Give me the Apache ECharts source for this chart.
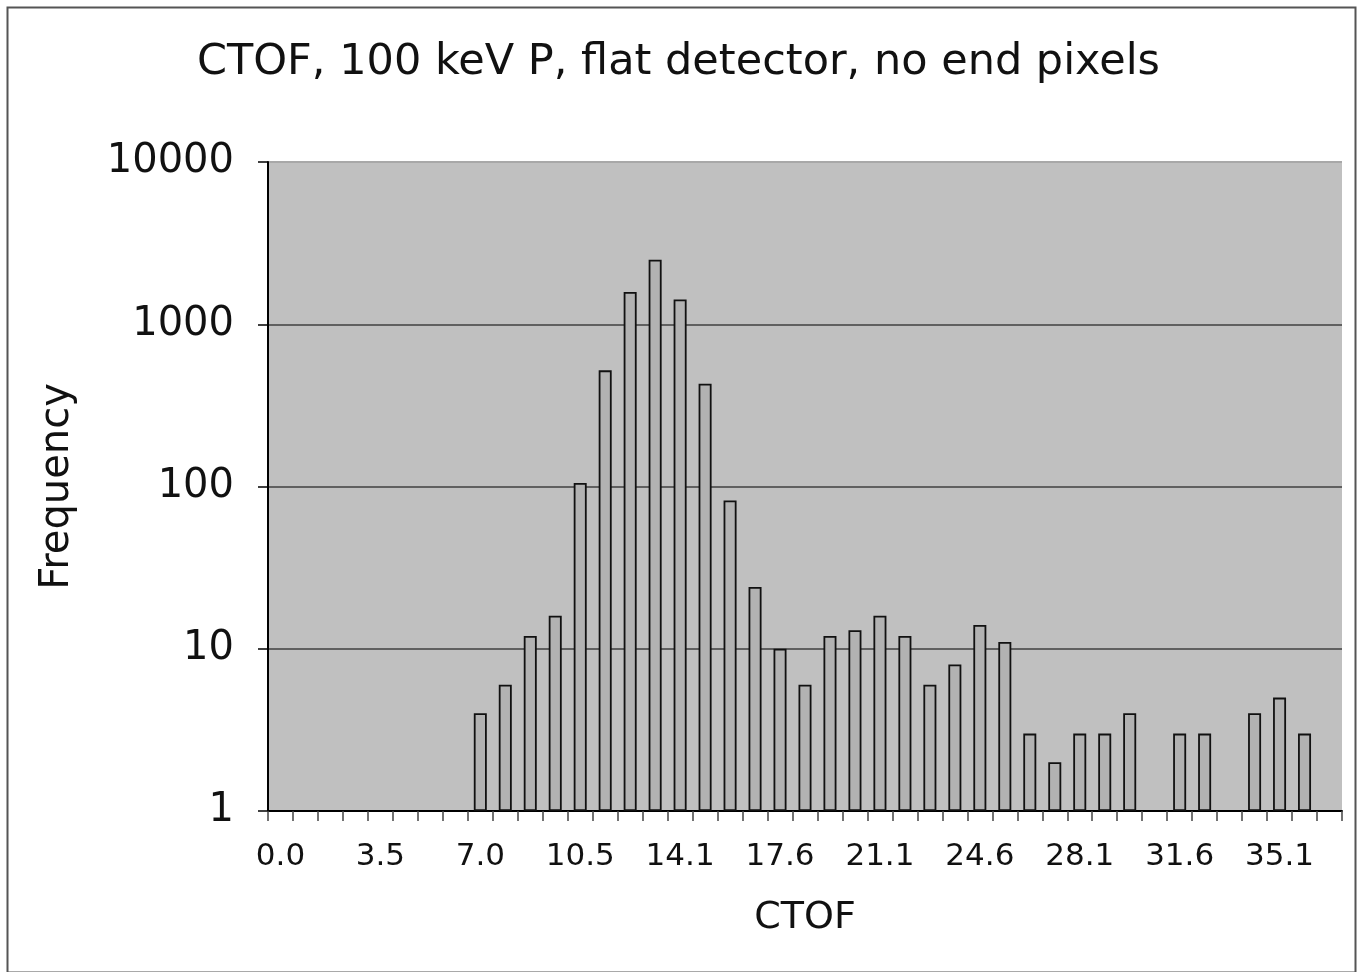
<!DOCTYPE html>
<html>
<head>
<meta charset="utf-8">
<script src="https://cdn.jsdelivr.net/npm/echarts@6/dist/echarts.min.js"></script>
<style>
html,body{margin:0;padding:0;background:#fff;}
#chart{width:1357px;height:972px;}
</style>
</head>
<body>
<div id="chart"></div>
<script>
var titleText = 'CTOF, 100 keV P, flat detector, no end pixels';
var xAxisName = 'CTOF';
var yAxisName = 'Frequency';
var categories = ['0.0','0.9','1.8','2.6','3.5','4.4','5.3','6.1','7.0','7.9','8.8','9.7','10.5','11.4','12.3','13.2','14.1','14.9','15.8','16.7','17.6','18.4','19.3','20.2','21.1','22.0','22.8','23.7','24.6','25.5','26.4','27.2','28.1','29.0','29.9','30.7','31.6','32.5','33.4','34.3','35.1','36.0','36.9'];
var frequency = ['-','-','-','-','-','-','-','-',4,6,12,16,105,520,1580,2500,1420,430,82,24,10,6,12,13,16,12,6,8,14,11,3,2,3,3,4,'-',3,3,'-',4,5,3,'-'];
var yTicks = [1,10,100,1000,10000];

var chart = echarts.init(document.getElementById('chart'), null, {renderer:'canvas'});
var FONT = 'DejaVu Sans';
chart.setOption({
  animation:false,
  backgroundColor:'#ffffff',
  title:{
    text:titleText, left:'center', top:36,
    textStyle:{fontFamily:FONT, fontSize:43, fontWeight:'normal', color:'#111'}
  },
  graphic:[{
    type:'rect', left:5, top:5, silent:true,
    shape:{x:0,y:0,width:1348,height:965},
    style:{fill:'none', stroke:'#555', lineWidth:2}
  }],
  grid:{left:268, right:15, top:162, bottom:161, show:true, backgroundColor:'#c0c0c0', borderWidth:0, containLabel:false},
  xAxis:{
    type:'category', data:categories, boundaryGap:true,
    name:xAxisName, nameLocation:'middle', nameGap:88,
    nameTextStyle:{fontFamily:FONT, fontSize:38, color:'#111'},
    axisLine:{show:true, lineStyle:{color:'#000', width:2}},
    axisTick:{show:true, interval:0, alignWithLabel:false, length:10, lineStyle:{color:'#444', width:1.5}},
    axisLabel:{interval:3, margin:30, fontFamily:FONT, fontSize:31, color:'#111'},
    splitLine:{show:false}
  },
  yAxis:{
    type:'log', logBase:10, min:yTicks[0], max:yTicks[yTicks.length-1],
    name:yAxisName, nameLocation:'middle', nameGap:190, nameRotate:90,
    nameTextStyle:{fontFamily:FONT, fontSize:40, color:'#111'},
    axisLine:{show:true, lineStyle:{color:'#000', width:2}},
    axisTick:{show:true, length:10, lineStyle:{color:'#000', width:1.5}},
    axisLabel:{margin:34, fontFamily:FONT, fontSize:40, color:'#111',
      formatter:function(v){return String(Math.round(v));}},
    splitLine:{show:true, lineStyle:{color:['#606060','#606060','#606060','#606060','#a8a8a8'], width:2}}
  },
  series:[{
    type:'bar', data:frequency, barWidth:13,
    itemStyle:{color:'#b2b2b2', borderColor:'#111', borderWidth:1.8}
  }]
});
</script>
</body>
</html>
